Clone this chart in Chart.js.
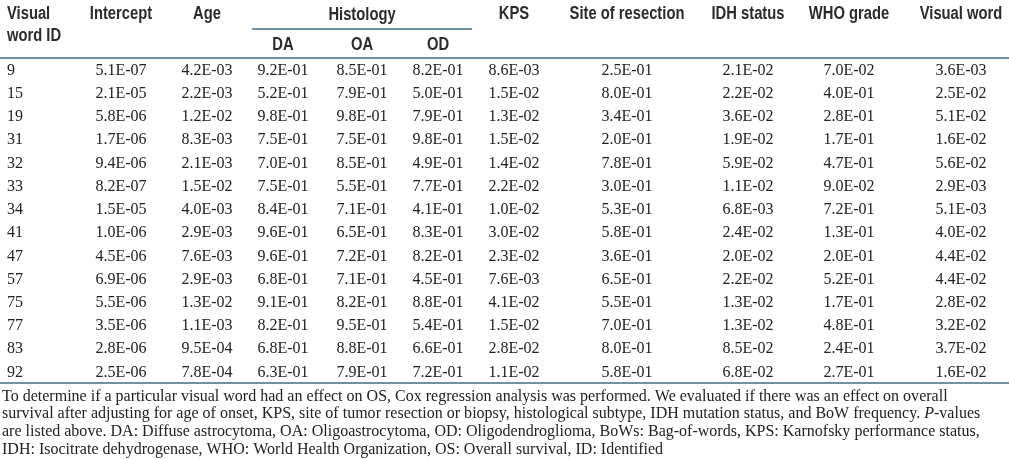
<!DOCTYPE html>
<html>
<head>
<meta charset="utf-8">
<script src="https://cdn.jsdelivr.net/npm/chart.js@4/dist/chart.umd.min.js"></script>
<style>
  html, body { margin: 0; padding: 0; background: #fff; }
  canvas { display: block; }
</style>
</head>
<body>
<canvas id="pTable" width="1009" height="459"></canvas>
<script>
// Table values (P-values per visual word)
const visualWordIds = ['9', '15', '19', '31', '32', '33', '34', '41', '47', '57', '75', '77', '83', '92'];
const intercept = [5.1e-7, 2.1e-5, 5.8e-6, 1.7e-6, 9.4e-6, 8.2e-7, 1.5e-5, 1.0e-6, 4.5e-6, 6.9e-6, 5.5e-6, 3.5e-6, 2.8e-6, 2.5e-6];
const age = [4.2e-3, 2.2e-3, 1.2e-2, 8.3e-3, 2.1e-3, 1.5e-2, 4.0e-3, 2.9e-3, 7.6e-3, 2.9e-3, 1.3e-2, 1.1e-3, 9.5e-4, 7.8e-4];
const histDA = [9.2e-1, 5.2e-1, 9.8e-1, 7.5e-1, 7.0e-1, 7.5e-1, 8.4e-1, 9.6e-1, 9.6e-1, 6.8e-1, 9.1e-1, 8.2e-1, 6.8e-1, 6.3e-1];
const histOA = [8.5e-1, 7.9e-1, 9.8e-1, 7.5e-1, 8.5e-1, 5.5e-1, 7.1e-1, 6.5e-1, 7.2e-1, 7.1e-1, 8.2e-1, 9.5e-1, 8.8e-1, 7.9e-1];
const histOD = [8.2e-1, 5.0e-1, 7.9e-1, 9.8e-1, 4.9e-1, 7.7e-1, 4.1e-1, 8.3e-1, 8.2e-1, 4.5e-1, 8.8e-1, 5.4e-1, 6.6e-1, 7.2e-1];
const kps = [8.6e-3, 1.5e-2, 1.3e-2, 1.5e-2, 1.4e-2, 2.2e-2, 1.0e-2, 3.0e-2, 2.3e-2, 7.6e-3, 4.1e-2, 1.5e-2, 2.8e-2, 1.1e-2];
const siteOfResection = [2.5e-1, 8.0e-1, 3.4e-1, 2.0e-1, 7.8e-1, 3.0e-1, 5.3e-1, 5.8e-1, 3.6e-1, 6.5e-1, 5.5e-1, 7.0e-1, 8.0e-1, 5.8e-1];
const idhStatus = [2.1e-2, 2.2e-2, 3.6e-2, 1.9e-2, 5.9e-2, 1.1e-2, 6.8e-3, 2.4e-2, 2.0e-2, 2.2e-2, 1.3e-2, 1.3e-2, 8.5e-2, 6.8e-2];
const whoGrade = [7.0e-2, 4.0e-1, 2.8e-1, 1.7e-1, 4.7e-1, 9.0e-2, 7.2e-1, 1.3e-1, 2.0e-1, 5.2e-1, 1.7e-1, 4.8e-1, 2.4e-1, 2.7e-1];
const visualWord = [3.6e-3, 2.5e-2, 5.1e-2, 1.6e-2, 5.6e-2, 2.9e-3, 5.1e-3, 4.0e-2, 4.4e-2, 4.4e-2, 2.8e-2, 3.2e-2, 3.7e-2, 1.6e-2];

const footnote = [
    'To determine if a particular visual word had an effect on OS, Cox regression analysis was performed. We evaluated if there was an effect on overall',
    'survival after adjusting for age of onset, KPS, site of tumor resection or biopsy, histological subtype, IDH mutation status, and BoW frequency. |P|-values',
    'are listed above. DA: Diffuse astrocytoma, OA: Oligoastrocytoma, OD: Oligodendroglioma, BoWs: Bag-of-words, KPS: Karnofsky performance status,',
    'IDH: Isocitrate dehydrogenase, WHO: World Health Organization, OS: Overall survival, ID: Identified'
];

// column layout (x in table units = px)
const columns = [
    { key: 'id', header: ['Visual', 'word ID'], x: 7, align: 'left', values: visualWordIds },
    { key: 'intercept', header: ['Intercept'], x: 121, align: 'center', values: intercept },
    { key: 'age', header: ['Age'], x: 207, align: 'center', values: age },
    { key: 'da', sub: 'DA', x: 283, align: 'center', values: histDA },
    { key: 'oa', sub: 'OA', x: 362, align: 'center', values: histOA },
    { key: 'od', sub: 'OD', x: 438, align: 'center', values: histOD },
    { key: 'kps', header: ['KPS'], x: 514, align: 'center', values: kps },
    { key: 'site', header: ['Site of resection'], x: 627, align: 'center', values: siteOfResection },
    { key: 'idh', header: ['IDH status'], x: 748, align: 'center', values: idhStatus },
    { key: 'who', header: ['WHO grade'], x: 849, align: 'center', values: whoGrade },
    { key: 'vw', header: ['Visual word'], x: 961, align: 'center', values: visualWord }
];

const RULE = '#3f6e86';
const TEXT = '#222';
// narrow bold header: Liberation Sans Bold squeezed horizontally
const HEAD_FONT = 'bold 18px "Liberation Sans", Arial, sans-serif';
const HEAD_SQUEEZE = 0.82;
const CELL_FONT = '16px "Liberation Serif", "Times New Roman", serif';
const NOTE_FAMILY = '"Liberation Serif", "Times New Roman", serif';
const NOTE_WIDTH = 946; // first footnote line runs to about x=948

function fmt(v) {
    if (typeof v === 'string') return v;
    const [m, e] = v.toExponential(1).split('e');
    const n = parseInt(e, 10);
    return m + 'E' + (n < 0 ? '-' : '+') + String(Math.abs(n)).padStart(2, '0');
}

const datasets = columns.map(col => ({
    label: col.key,
    data: visualWordIds.map((id, i) => ({ x: col.x, y: id, text: fmt(col.values[i]) })),
    pointRadius: 0,
    align: col.align
}));

function headText(ctx, text, x, y) {
    ctx.save();
    ctx.translate(x, y);
    ctx.scale(HEAD_SQUEEZE, 1);
    ctx.fillText(text, 0, 0);
    ctx.restore();
}

const tablePlugin = {
    id: 'tableText',
    afterDatasetsDraw(chart) {
        const ctx = chart.ctx;
        const area = chart.chartArea;
        const xs = chart.scales.x;
        ctx.save();

        // rules
        ctx.strokeStyle = RULE;
        ctx.lineWidth = 1.3;
        ctx.beginPath();
        ctx.moveTo(0, area.top); ctx.lineTo(chart.width, area.top);
        ctx.moveTo(0, area.bottom); ctx.lineTo(chart.width, area.bottom);
        ctx.moveTo(xs.getPixelForValue(252), 29); ctx.lineTo(xs.getPixelForValue(472), 29);
        ctx.stroke();

        // headers
        ctx.fillStyle = '#2b2b2b';
        ctx.font = HEAD_FONT;
        ctx.textBaseline = 'middle';
        columns.forEach(col => {
            ctx.textAlign = col.align;
            const px = xs.getPixelForValue(col.x);
            if (col.header) {
                col.header.forEach((line, j) => headText(ctx, line, px, 14.5 + j * 22));
            } else {
                headText(ctx, col.sub, px, 45);
            }
        });
        ctx.textAlign = 'center';
        headText(ctx, 'Histology', xs.getPixelForValue(362), 15);

        // cells
        ctx.fillStyle = TEXT;
        ctx.font = CELL_FONT;
        chart.data.datasets.forEach((ds, di) => {
            const meta = chart.getDatasetMeta(di);
            ctx.textAlign = ds.align;
            meta.data.forEach((pt, i) => {
                ctx.fillText(ds.data[i].text, pt.x, pt.y + 1);
            });
        });

        // footnote, sized so the first line spans the same width as the reference
        ctx.font = '16px ' + NOTE_FAMILY;
        const size = 16 * NOTE_WIDTH / ctx.measureText(footnote[0]).width;
        const noteFont = size.toFixed(2) + 'px ' + NOTE_FAMILY;
        ctx.textAlign = 'left';
        ctx.textBaseline = 'middle';
        footnote.forEach((line, j) => {
            const y = area.bottom + 13.5 + j * 17.7;
            let x = 2;
            line.split('|').forEach((part, k) => {
                ctx.font = (k % 2 === 1 ? 'italic ' : '') + noteFont;
                ctx.fillText(part, x, y);
                x += ctx.measureText(part).width;
            });
        });
        ctx.restore();
    }
};

new Chart(document.getElementById('pTable'), {
    type: 'scatter',
    data: { datasets },
    options: {
        responsive: false,
        animation: false,
        layout: { padding: { top: 58, bottom: 76, left: 0, right: 0 } },
        scales: {
            x: { type: 'linear', min: 0, max: 1009, display: false },
            y: { type: 'category', labels: visualWordIds, offset: true, display: false }
        },
        plugins: {
            legend: { display: false },
            tooltip: { enabled: false }
        }
    },
    plugins: [tablePlugin]
});
</script>
</body>
</html>
